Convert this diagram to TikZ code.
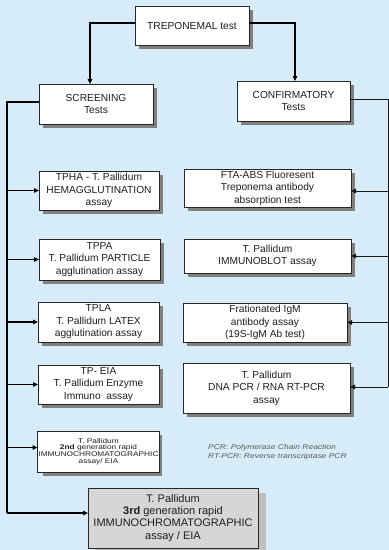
\documentclass[tikz,border=0pt]{standalone}
\usepackage{fontspec}
\setmainfont{Liberation Sans}
\newfontfamily\widefont[FakeStretch=1.22]{Liberation Sans}
\usetikzlibrary{arrows.meta}
\definecolor{bgblue}{HTML}{D6ECF8}
\tikzset{
  box/.style={draw=black!85, line width=1pt, fill=white, align=center, text=black!88,
    inner sep=1pt, outer sep=0pt, font=\fontsize{10.2}{12.5}\selectfont},
  conn/.style={line width=1.3pt, black},
  arr/.style={conn, -{Triangle[length=5pt,width=4.5pt]}},
  rconn/.style={line width=0.9pt, black!90},
  rarr/.style={rconn, -{Triangle[length=5pt,width=4.5pt]}}}
\begin{document}
\begin{tikzpicture}[x=1pt,y=-1pt]
\fill[bgblue] (0,0) rectangle (389,550);
\useasboundingbox (0,0) rectangle (389,550);
% shadows
\fill[gray] (139,10) rectangle (253,49);
\fill[gray] (43,88) rectangle (157,128);
\fill[gray] (241,85) rectangle (354,125);
\fill[gray] (43,175) rectangle (163,214);
\fill[gray] (43,243) rectangle (164,284);
\fill[gray] (42,306) rectangle (163,346);
\fill[gray] (42,369) rectangle (163,408);
\fill[gray] (43,435) rectangle (162,476);
\fill[lightgray] (96,493) rectangle (266,553);
\fill[gray] (188,173) rectangle (355,211);
\fill[gray] (188,243) rectangle (355,277);
\fill[gray] (187,307) rectangle (351,346);
\fill[gray] (187,367) rectangle (354,417);
% top
\node[box, minimum width=114pt, minimum height=39pt] (trep) at (192,25.5) {TREPONEMAL test};
\node[box, minimum width=114pt, minimum height=40pt] (scr) at (96,104) {SCREENING\\Tests};
\node[box, minimum width=113pt, minimum height=40pt] (conf) at (293.5,101) {CONFIRMATORY\\Tests};
% left column
\node[box, minimum width=120pt, minimum height=39pt] (tpha) at (99,190.5) {TPHA - T. Pallidum\\HEMAGGLUTINATION\\assay};
\node[box, minimum width=121pt, minimum height=41pt] (tppa) at (99.5,259.5) {TPPA\\T. Pallidum PARTICLE\\agglutination assay};
\node[box, minimum width=121pt, minimum height=40pt] (tpla) at (98.5,322) {TPLA\\T. Pallidum LATEX\\agglutination assay};
\node[box, minimum width=121pt, minimum height=39pt] (tpeia) at (98.5,384.5) {TP- EIA\\T. Pallidum Enzyme\\Immuno\ \ assay};
\node[box, minimum width=119pt, minimum height=41pt, font=\widefont\fontsize{6.8}{6.6}\selectfont] (second) at (98.5,451.5) {T. Pallidum\\\textbf{2nd} generation rapid\\IMMUNOCHROMATOGRAPHIC\\assay/ EIA};
\node[box, fill=black!16, minimum width=170pt, minimum height=60pt, font=\fontsize{11}{12.2}\selectfont] (third) at (173,518) {T. Pallidum\\\textbf{3rd} generation rapid\\IMMUNOCHROMATOGRAPHIC\\assay / EIA};
% right column
\node[box, minimum width=167pt, minimum height=38pt] (fta) at (267.5,188) {FTA-ABS Fluoresent\\Treponema antibody\\absorption test};
\node[box, minimum width=167pt, minimum height=34pt] (blot) at (267.5,256) {T. Pallidum\\IMMUNOBLOT assay};
\node[box, minimum width=164pt, minimum height=39pt] (frat) at (265,322.5) {Frationated IgM\\antibody assay\\(19S-IgM Ab test)};
\node[box, minimum width=167pt, minimum height=50pt] (dna) at (266.5,388) {T. Pallidum\\DNA PCR / RNA RT-PCR\\assay};
% notes
\node[anchor=north west, align=left, inner sep=0pt, text=black!65, font=\widefont\fontsize{6.95}{9.2}\selectfont\itshape] (note) at (208,444) {PCR: Polymerase Chain Reaction\\RT-PCR: Reverse transcriptase PCR};
% top connectors
\draw[arr] ([yshift=2.5pt]trep.west) -| ([xshift=-6pt]scr.north);
\draw[arr] ([yshift=2.5pt]trep.east) -| ([xshift=1.5pt]conf.north);
% left trunk
\coordinate (L) at (7,102);
\coordinate (Lb) at (7,513);
\draw[conn] ([yshift=2pt]scr.west) -- (L) -- (Lb);
\draw[arr] (tpha.west -| L) -- (tpha.west);
\draw[arr] (tppa.west -| L) -- (tppa.west);
\draw[arr] (tpla.west -| L) -- (tpla.west);
\draw[arr] (tpeia.west -| L) -- (tpeia.west);
\draw[arr] ([yshift=4pt]second.west -| L) -- ([yshift=4pt]second.west);
\draw[arr] (Lb) -- ([yshift=5pt]third.west);
% right trunk
\coordinate (R) at (388,99);
\coordinate (Rb) at (388,387);
\draw[rconn] ([yshift=2pt]conf.east) -- (R) -- (Rb);
\draw[rarr] ([yshift=-3pt]fta.east -| R) -- ([yshift=-3pt]fta.east);
\draw[rarr] (blot.east -| R) -- (blot.east);
\draw[rarr] (frat.east -| R) -- (frat.east);
\draw[rarr] (Rb) -- ([yshift=1pt]dna.east);
\end{tikzpicture}
\end{document}
